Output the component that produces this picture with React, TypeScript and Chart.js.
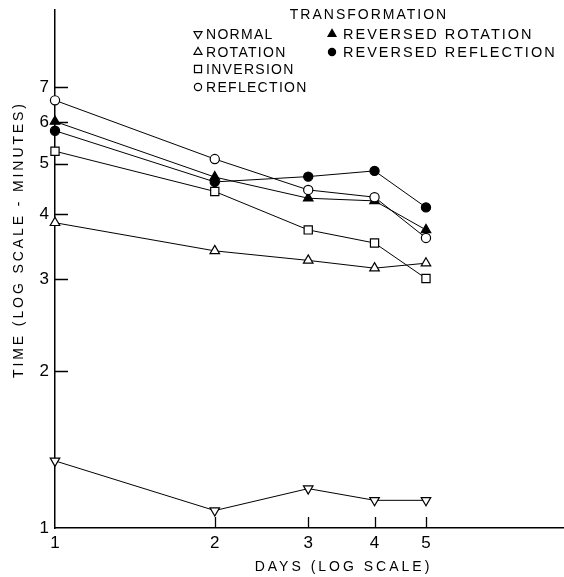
import React, { useEffect, useRef } from 'react';
import { Chart, registerables } from 'chart.js';
Chart.register(...registerables);

const days = [1, 2, 3, 4, 5];
const normal = [1.345, 1.08, 1.19, 1.13, 1.13];
const rotation = [3.85, 3.4, 3.26, 3.15, 3.22];
const inversion = [5.28, 4.42, 3.73, 3.52, 3.01];
const reflection = [6.61, 5.1, 4.45, 4.31, 3.6];
const reversedRotation = [6.02, 4.71, 4.29, 4.24, 3.73];
const reversedReflection = [5.78, 4.61, 4.72, 4.84, 4.12];
const yTicks = [1, 2, 3, 4, 5, 6, 7];
const xTicks = [1, 2, 3, 4, 5];
const legendTitle = 'TRANSFORMATION';
const xTitle = 'DAYS (LOG SCALE)';
const yTitle = 'TIME (LOG SCALE - MINUTES)';

type Spec = { label: string; data: number[]; style: string; filled: boolean; radius: number; rot: number };
const specs: Spec[] = [
  { label: 'NORMAL', data: normal, style: 'triangle', filled: false, radius: 5.5, rot: 180 },
  { label: 'ROTATION', data: rotation, style: 'triangle', filled: false, radius: 5.5, rot: 0 },
  { label: 'INVERSION', data: inversion, style: 'rect', filled: false, radius: 5.8, rot: 0 },
  { label: 'REFLECTION', data: reflection, style: 'circle', filled: false, radius: 4.6, rot: 0 },
  { label: 'REVERSED ROTATION', data: reversedRotation, style: 'triangle', filled: true, radius: 5.5, rot: 0 },
  { label: 'REVERSED REFLECTION', data: reversedReflection, style: 'circle', filled: true, radius: 4.6, rot: 0 },
];

const FONT = '"Liberation Sans", Arial, sans-serif';

function drawMarker(ctx: CanvasRenderingContext2D, s: Spec, x: number, y: number, r: number) {
  ctx.save();
  ctx.beginPath();
  if (s.style === 'circle') {
    ctx.arc(x, y, r, 0, Math.PI * 2);
  } else if (s.style === 'rect') {
    const h = r * Math.SQRT1_2;
    ctx.rect(x - h, y - h, 2 * h, 2 * h);
  } else {
    let a = (s.rot * Math.PI) / 180;
    for (let i = 0; i < 3; i++) {
      const px = x + Math.sin(a) * r;
      const py = y - Math.cos(a) * r;
      if (i === 0) ctx.moveTo(px, py); else ctx.lineTo(px, py);
      a += (2 * Math.PI) / 3;
    }
    ctx.closePath();
  }
  ctx.fillStyle = s.filled ? '#000' : '#fff';
  ctx.fill();
  ctx.lineWidth = 1.2;
  ctx.strokeStyle = '#000';
  ctx.stroke();
  ctx.restore();
}

function spacedText(ctx: CanvasRenderingContext2D, text: string, x: number, y: number, spacing: number, align: 'left' | 'center') {
  (ctx as any).letterSpacing = spacing + 'px';
  ctx.textAlign = 'left';
  const w = ctx.measureText(text).width - spacing;
  const sx = align === 'center' ? x - w / 2 : x;
  ctx.fillText(text, sx, y);
  (ctx as any).letterSpacing = '0px';
}

const decorPlugin = {
  id: 'decor',
  beforeDatasetsDraw(chart: any) {
    const ctx: CanvasRenderingContext2D = chart.ctx;
    const xs = chart.scales.x;
    const ys = chart.scales.y;
    const area = chart.chartArea;
    ctx.save();
    ctx.strokeStyle = '#000';
    ctx.lineWidth = 1.3;
    ctx.beginPath();
    yTicks.slice(1).forEach((v) => {
      const py = Math.round(ys.getPixelForValue(v)) + 0.5;
      ctx.moveTo(area.left, py);
      ctx.lineTo(area.left + 13, py);
    });
    xTicks.slice(1).forEach((v) => {
      const px = Math.round(xs.getPixelForValue(v)) + 0.5;
      ctx.moveTo(px, area.bottom);
      ctx.lineTo(px, area.bottom - 11);
    });
    ctx.stroke();
    ctx.restore();
  },
  afterDraw(chart: any) {
    const ctx: CanvasRenderingContext2D = chart.ctx;
    ctx.save();
    ctx.fillStyle = '#000';
    ctx.textBaseline = 'middle';
    ctx.font = `14px ${FONT}`;
    spacedText(ctx, legendTitle, 368, 15, 2, 'center');
    const col1 = specs.slice(0, 4);
    const col2 = specs.slice(4);
    const rows = [34, 52, 69, 87];
    col1.forEach((s, i) => {
      drawMarker(ctx, s, 198, rows[i], s.style === 'circle' ? 3.6 : s.style === 'rect' ? 5 : 4.6);
      ctx.fillStyle = '#000';
      spacedText(ctx, s.label, 206, rows[i] + 1, 1.3, 'left');
    });
    ctx.font = `14.5px ${FONT}`;
    col2.forEach((s, i) => {
      drawMarker(ctx, s, 332, rows[i], s.style === 'circle' ? 3.6 : 4.6);
      ctx.fillStyle = '#000';
      spacedText(ctx, s.label, 343, rows[i] + 1, 2.0, 'left');
    });
    ctx.font = `14px ${FONT}`;
    spacedText(ctx, xTitle, 342, 567, 3.0, 'center');
    ctx.translate(19, 241);
    ctx.rotate(-Math.PI / 2);
    spacedText(ctx, yTitle, 0, 0, 2.9, 'center');
    ctx.restore();
  },
};

export default function App() {
  const ref = useRef<HTMLCanvasElement>(null);
  useEffect(() => {
    document.body.style.margin = '0';
    const canvas = ref.current!;
    const chart = new Chart(canvas, {
      type: 'line',
      data: {
        datasets: specs.map((s) => ({
          label: s.label,
          data: days.map((d, i) => ({ x: d, y: s.data[i] })),
          borderColor: '#000',
          borderWidth: 1,
          pointStyle: s.style as any,
          pointRadius: s.radius,
          pointRotation: s.rot,
          pointBackgroundColor: s.filled ? '#000' : '#fff',
          pointBorderColor: '#000',
          pointBorderWidth: 1.2,
          fill: false,
          tension: 0,
          clip: false as any,
        })),
      },
      options: {
        animation: false,
        responsive: false,
        events: [],
        layout: { padding: { top: 10, left: 0, right: 0, bottom: 0 } },
        plugins: { legend: { display: false }, tooltip: { enabled: false }, title: { display: false } },
        scales: {
          x: {
            type: 'logarithmic',
            min: 1,
            max: 9.1,
            afterBuildTicks: (s: any) => { s.ticks = xTicks.map((v) => ({ value: v })); },
            afterFit: (s: any) => { s.height = 49; s.paddingLeft = 0; s.paddingRight = 0; },
            ticks: {
              callback: (v: any) => String(v),
              color: '#000',
              font: { family: FONT, size: 17 },
              padding: 5,
              autoSkip: false,
              maxRotation: 0,
            },
            grid: { display: true, drawOnChartArea: false, drawTicks: false },
            border: { display: true, color: '#000', width: 1.5 },
          },
          y: {
            type: 'logarithmic',
            min: 1,
            max: 9.85,
            afterBuildTicks: (s: any) => { s.ticks = yTicks.map((v) => ({ value: v })); },
            afterFit: (s: any) => { s.width = 55; s.paddingTop = 0; s.paddingBottom = 0; },
            ticks: {
              callback: (v: any) => String(v),
              color: '#000',
              font: { family: FONT, size: 17 },
              padding: 6,
              autoSkip: false,
            },
            grid: { display: true, drawOnChartArea: false, drawTicks: false },
            border: { display: true, color: '#000', width: 1.5 },
          },
        },
      },
      plugins: [decorPlugin],
    });
    return () => chart.destroy();
  }, []);
  return (
    <div style={{ position: 'absolute', left: 0, top: 0, width: 564, height: 577, overflow: 'hidden', background: '#fff' }}>
      <canvas ref={ref} width={571} height={577} style={{ display: 'block' }} />
    </div>
  );
}
